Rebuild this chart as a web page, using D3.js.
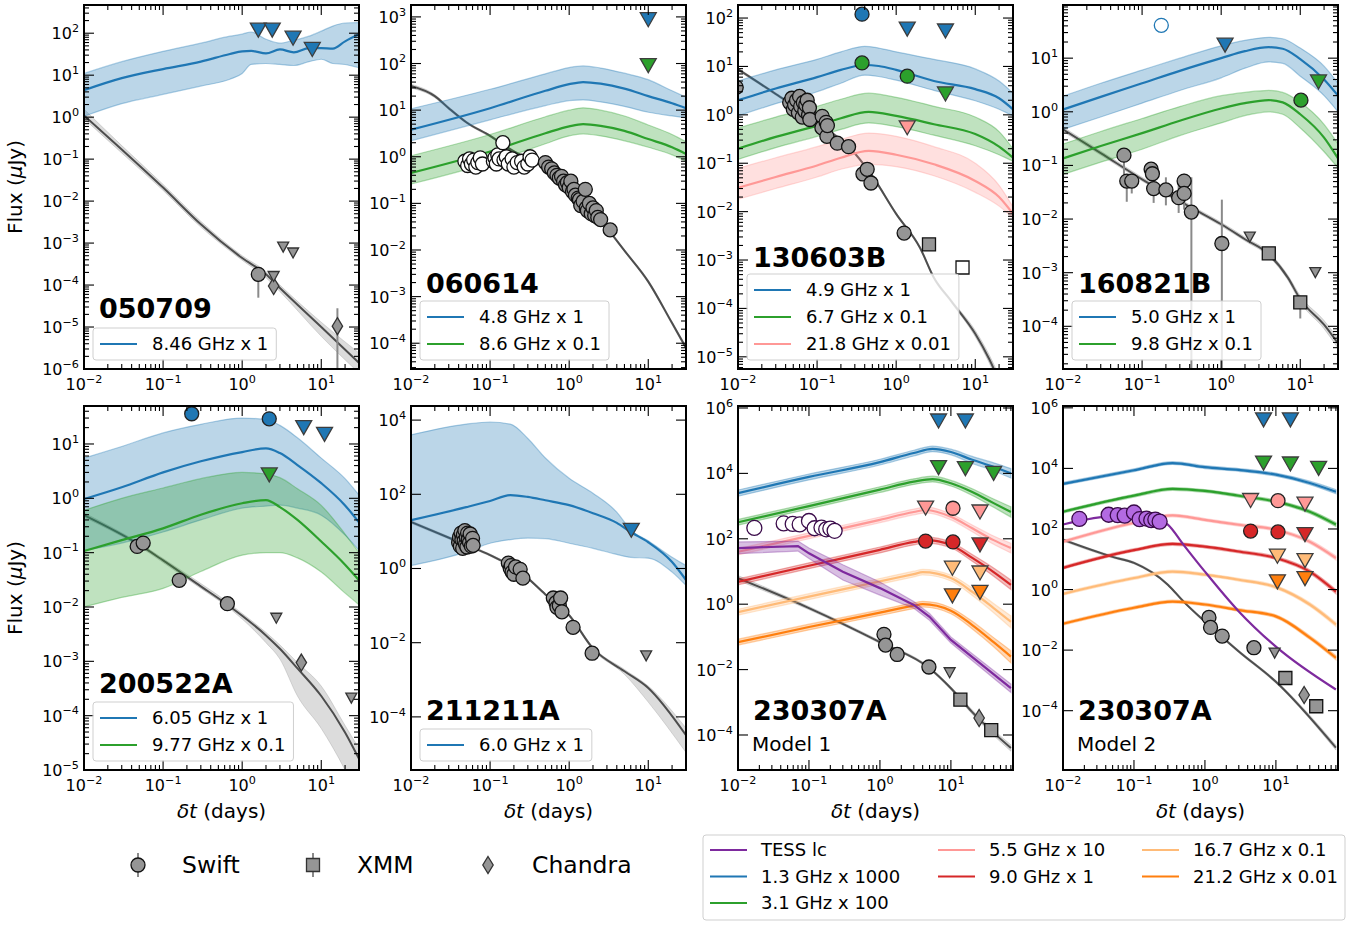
<!DOCTYPE html>
<html><head><meta charset="utf-8">
<script src="https://cdn.jsdelivr.net/npm/d3@7"></script>
<style>body{margin:0;background:#fff} text{font-family:"DejaVu Sans",sans-serif;fill:#000}</style>
</head><body><script>
// ---- 050709 ----
var m050709_846 = [[0.01,4.4,1.05,11],[0.03,8.5,2.1,21],[0.1,14,3.5,37],[0.3,21,5.5,58],[0.7,32,8,85],[1,37,11,95],[1.3,38,18,107],[2,33,19,72],[3,41,18,58],[4.5,35,17,68],[7,44,21,85],[10,44,24,112],[14,43,19,148],[20,64,18,175],[30,95,15,180]];
var x050709_model = [[0.01,1.1,0.92,1.55],[0.03,0.17,0.14,0.21],[0.1,0.021,0.018,0.025],[0.3,2.8e-3,2.4e-3,3.3e-3],[1,4.4e-4,3.9e-4,5e-4],[2,1.8e-4,1.5e-4,2.1e-4],[3,8.5e-5,7e-5,1e-4],[10,1e-5,6e-6,1.3e-5],[30,1.4e-6,8e-7,2.4e-6]];
var x050709_swift = [[1.6,1.8e-4,5e-5,2.4e-4]];
var x050709_ul = [[2.5,1.6e-4],[3.3,8e-4],[4.4,5.8e-4]];
var x050709_chandra = [[2.5,9.5e-5,7e-5,1.2e-4],[16,1.05e-5,1e-7,2.8e-5]];
var r050709_ul846 = [[1.6,118],[2.4,118],[4.4,76],[7.7,41]];

// ---- 060614 ----
var m060614_48 = [[0.01,3.8,2.2,10.7],[0.1,11,6.2,28],[0.5,26,12.5,60],[1,36,16,82],[1.5,40,16.6,89],[2.5,37,15,80],[5,29,12,62],[10,20,9,45],[20,14,7.5,26],[30,11,6.8,19]];
var m060614_86 = [[0.01,0.45,0.26,1.05],[0.1,1.3,0.75,3.0],[0.5,3.2,1.9,7.2],[1,4.5,2.8,10],[1.5,5,3.1,11.2],[2.5,4.6,2.8,10],[5,3.6,2.2,7.5],[10,2.4,1.6,4.8],[20,1.6,1.1,3.0],[30,1.15,0.8,2.1]];
var x060614_model = [[0.01,33,30,36],[0.02,20,18.5,21.5],[0.03,11,10.3,11.8],[0.05,5.5,5.2,5.8],[0.1,2.8,2.65,2.95],[0.2,1.3,1.23,1.37],[0.5,0.6,0.57,0.63],[1,0.3,0.285,0.315],[2,0.075,0.071,0.079],[3,0.03,0.028,0.032],[5,0.0097,0.0092,0.0102],[10,2.1e-3,1.95e-3,2.25e-3],[20,2.7e-4,2.5e-4,2.9e-4],[30,8e-5,7.3e-5,8.7e-5]];
var o060614_open = [[0.048,0.8],[0.052,0.65],[0.055,0.9],[0.058,0.7],[0.062,0.85],[0.066,0.6],[0.07,0.75],[0.075,0.95],[0.08,0.7],[0.11,0.8],[0.115,0.95],[0.12,0.7],[0.125,1.1],[0.13,0.9],[0.145,2.0],[0.15,0.85],[0.16,1.0],[0.17,0.7],[0.19,0.9],[0.2,0.6],[0.22,0.75],[0.25,0.8],[0.27,0.6],[0.3,0.7],[0.32,1.0],[0.34,0.85]];
var x060614_swift = [[0.5,0.75],[0.55,0.6],[0.6,0.55],[0.65,0.45],[0.7,0.4],[0.75,0.35],[0.8,0.38],[0.85,0.3],[0.9,0.25],[0.95,0.28],[1.0,0.22],[1.05,0.3],[1.1,0.18],[1.15,0.2],[1.2,0.15],[1.3,0.13],[1.35,0.12],[1.4,0.09],[1.5,0.11],[1.6,0.2],[1.65,0.08],[1.7,0.07],[1.8,0.1],[1.9,0.06],[2.0,0.08],[2.1,0.055],[2.2,0.07],[2.3,0.05],[2.5,0.045],[3.3,0.027]];
var r060614_ul48 = [[10,870]];
var r060614_ul86 = [[10,90]];

// ---- 130603B ----
var m130603_49 = [[0.01,2.0,0.95,5],[0.03,3.5,1.7,8.5],[0.1,6,3,14],[0.2,8.5,4.5,20],[0.4,10.7,6.6,26],[0.6,10.2,6.2,24],[1,8.5,5.2,20],[3,5,3.2,14],[10,3.4,1.95,8.9],[20,2.2,1.3,5],[30,1.3,0.95,2.8]];
var m130603_67 = [[0.01,0.2,0.12,0.53],[0.03,0.35,0.21,0.9],[0.1,0.6,0.36,1.5],[0.2,0.85,0.5,2.1],[0.45,1.15,0.68,2.8],[1,0.95,0.57,2.3],[3,0.64,0.38,1.5],[10,0.4,0.23,0.9],[20,0.22,0.15,0.45],[30,0.13,0.11,0.2]];
var m130603_218 = [[0.01,0.031,0.018,0.079],[0.03,0.052,0.03,0.13],[0.1,0.09,0.052,0.22],[0.2,0.13,0.075,0.31],[0.45,0.18,0.095,0.42],[1,0.15,0.085,0.36],[3,0.095,0.055,0.22],[10,0.043,0.025,0.1],[20,0.02,0.013,0.035],[30,0.009,0.0074,0.0125]];
var x130603_model = [[0.01,8.7,8.2,9.3],[0.03,2.7,2.55,2.85],[0.1,0.71,0.67,0.75],[0.3,0.16,0.15,0.17],[0.5,0.054,0.051,0.057],[1,0.009,0.0085,0.0095],[2,1.8e-3,1.7e-3,1.9e-3],[3,4.3e-4,4e-4,4.6e-4],[5,1.4e-4,1.3e-4,1.5e-4],[10,3e-5,2.6e-5,3.5e-5],[15,9e-6,7.5e-6,1.1e-5],[30,6e-7,4.5e-7,8e-7]];
var x130603_swift = [[0.0095,3.7],[0.045,1.8],[0.048,2.2],[0.05,1.3],[0.052,1.6],[0.055,2.0],[0.058,1.1],[0.06,2.4],[0.062,1.5],[0.065,0.9],[0.067,1.8],[0.07,1.2],[0.072,1.6],[0.075,2.0],[0.078,1.0],[0.08,1.4],[0.081,0.8],[0.116,0.93],[0.115,0.54],[0.13,0.7],[0.133,0.36],[0.135,0.6],[0.18,0.26],[0.25,0.22],[0.38,0.06],[0.43,0.075],[0.48,0.039],[1.26,0.0036]];
var x130603_xmm = [[2.6,0.0021]];
var x130603_xmmOpen = [[6.9,7e-4]];
var r130603_det49 = [[0.37,120]];
var r130603_det67 = [[0.37,11.8],[1.38,6.3]];
var r130603_ul49 = [[1.38,59],[4.2,54]];
var r130603_ul67 = [[4.2,2.7]];
var r130603_ul218 = [[1.38,0.54]];

// ---- 160821B ----
var m160821_50 = [[0.01,1.1,0.47,1.95],[0.03,1.9,0.8,3.4],[0.1,3.4,1.45,6],[0.3,5.8,2.5,10],[1,10,4.3,17],[2,13.5,6.5,21.5],[4,16,8.5,24.5],[6,15,8,23],[10,9.6,4.6,15.4],[20,4,2,7.1],[30,2,1,3.4]];
var m160821_98 = [[0.01,0.135,0.068,0.25],[0.03,0.23,0.115,0.43],[0.1,0.4,0.2,0.75],[0.3,0.68,0.36,1.25],[1,1.15,0.62,2.0],[2,1.45,0.85,2.3],[4,1.65,1.0,2.5],[6,1.5,0.9,2.3],[10,0.9,0.5,1.5],[20,0.33,0.18,0.58],[30,0.135,0.09,0.25]];
var x160821_model = [[0.01,0.47,0.43,0.52],[0.03,0.17,0.156,0.185],[0.1,0.055,0.051,0.06],[0.4,0.017,0.0157,0.0185],[1,0.008,0.0074,0.0087],[2,0.0042,0.0039,0.0046],[4,0.0022,0.002,0.0024],[7,8e-4,7.2e-4,8.9e-4],[10,3.2e-4,2.8e-4,3.7e-4],[20,1.07e-4,9e-5,1.28e-4],[30,4.8e-5,3.9e-5,5.9e-5]];
var x160821_swift = [[0.059,0.155,0.069,0.21],[0.064,0.051,0.021,0.069],[0.074,0.051,0.03,0.07],[0.13,0.085,0.06,0.11],[0.135,0.07,0.045,0.1],[0.14,0.037,0.02,0.06],[0.2,0.035,0.018,0.06],[0.29,0.025,0.013,0.045],[0.34,0.051,0.03,0.07],[0.34,0.03,0.015,0.06],[0.42,0.0135,1e-6,0.06],[1.02,0.0035,1e-6,0.023]];
var x160821_xmm = [[4,0.0023,0.0019,0.0028],[10,2.8e-4,1.4e-4,3.6e-4]];
var x160821_ul = [[2.3,0.0046],[15.5,1e-3]];
var r160821_open50 = [[0.175,41]];
var r160821_ul50 = [[1.12,17.5]];
var r160821_ul98 = [[17,3.6]];
var r160821_det98 = [[10.2,1.65]];

// ---- 200522A ----
var m200522_605 = [[0.01,0.97,0.11,5.5],[0.03,1.6,0.15,9],[0.1,3.0,0.24,16],[0.3,4.8,0.4,23],[1,7.1,0.66,30],[2,8.3,0.72,28],[3,6.8,0.75,22],[5,4.1,0.66,13],[10,1.9,0.49,5.5],[20,0.74,0.21,2.3],[30,0.36,0.11,1.15]];
var m200522_977 = [[0.01,0.107,0.01,0.6],[0.03,0.17,0.015,1.0],[0.1,0.28,0.022,1.55],[0.3,0.5,0.045,2.3],[1,0.81,0.09,3.0],[2,0.93,0.1,2.8],[3,0.69,0.1,2.4],[5,0.4,0.08,1.5],[10,0.16,0.044,0.74],[20,0.06,0.018,0.22],[30,0.031,0.011,0.1]];
var x200522_model = [[0.01,0.49,0.45,0.54],[0.05,0.14,0.13,0.15],[0.1,0.072,0.066,0.078],[0.3,0.024,0.022,0.027],[0.6,0.012,0.011,0.0135],[1,0.0069,0.006,0.0076],[2,0.003,0.0022,0.0034],[3,1.7e-3,1.1e-3,2e-3],[5,7.4e-4,2.3e-4,9.5e-4],[10,2.3e-4,5.8e-5,3.5e-4],[20,4.9e-5,1e-5,6.6e-5],[30,1.6e-5,3e-6,2.5e-5]];
var x200522_swift = [[0.047,0.13],[0.056,0.15],[0.16,0.031],[0.65,0.0115]];
var x200522_ul = [[2.7,0.0062],[24,2.1e-4]];
var x200522_chandra = [[5.6,9.5e-4]];
var r200522_det605 = [[0.23,36],[2.2,29]];
var r200522_ul605 = [[6,20],[11,15]];
var r200522_ul977 = [[2.2,2.7]];

// ---- 211211A ----
var m211211_60 = [[0.01,20,1.2,4000],[0.05,45,2.8,7800],[0.1,66,4.8,8900],[0.18,95,6,7800],[0.3,85,6.6,3200],[0.5,69,6.4,950],[1,51,4.8,270],[2,31,3.5,107],[4,17,2.4,33],[6,9.6,2.0,11],[10,5.1,1.9,5.6],[20,1.5,0.8,2.0],[30,0.49,0.35,1.2]];
var x211211_model = [[0.01,18,16.5,19.5],[0.05,4.3,4.0,4.6],[0.1,2.3,2.15,2.45],[0.25,0.76,0.71,0.81],[0.5,0.2,0.186,0.214],[1,0.055,0.051,0.059],[2,7e-3,6.4e-3,7.6e-3],[5,1.7e-3,1.4e-3,1.9e-3],[10,6e-4,2.5e-4,6.8e-4],[30,3.2e-5,1.1e-5,5e-5]];
var x211211_swift = [[0.040,5],[0.041,7],[0.042,4],[0.043,9],[0.044,6],[0.045,3.5],[0.046,8],[0.047,5.5],[0.048,10.5],[0.049,4.5],[0.05,7],[0.051,3.8],[0.052,9],[0.053,6],[0.055,5],[0.056,8.5],[0.058,4],[0.06,6.5],[0.061,4.2],[0.17,1.4],[0.18,1.0],[0.185,1.2],[0.19,0.8],[0.2,0.7],[0.21,1.1],[0.24,0.95],[0.26,0.55],[0.63,0.16],[0.68,0.12],[0.7,0.09],[0.75,0.1],[0.78,0.16],[0.81,0.068],[1.12,0.026],[1.95,0.0052]];
var x211211_ul = [[9.4,0.0044]];
var r211211_ul60 = [[6.1,10.7]];

// ---- 230307A shared data ----
var x230307_swift = [[1.14,0.12],[1.2,0.056],[1.75,0.029],[4.9,0.012]];
var x230307_ul = [[9.6,0.008]];
var x230307_xmm = [[13.6,1.2e-3],[37,1.4e-4]];
var x230307_chandra = [[25,3.3e-4]];
var tess230307 = [[0.017,215],[0.044,295],[0.059,285],[0.074,275],[0.1,350],[0.12,210],[0.15,220],[0.175,195],[0.2,205],[0.23,175]];
var r230307_ul13 = [[6.7,4e5],[16,4e5]];
var r230307_ul31 = [[6.7,15000],[16,14000],[40,10000]];
var r230307_ul55 = [[4.4,870],[25.7,660]];
var r230307_det55 = [[10.7,860]];
var r230307_det90 = [[4.4,85],[10.7,80]];
var r230307_ul90 = [[25.7,65]];
var r230307_ul167 = [[10.5,12.6],[25.7,9]];
var r230307_ul212 = [[10.5,1.8],[25.7,2.3]];

// ---- 230307A model 1 ----
var m1_13 = [[0.01,2500,2000,3100],[0.1,7800,6300,9600],[1,22000,18000,27000],[3,42000,34000,51000],[5.5,56000,46000,68000],[10,45000,37000,55000],[20,26000,20000,33000],[40,16000,12000,21000],[70,10000,7200,14000]];
var m1_31 = [[0.01,320,260,390],[0.1,1000,820,1220],[1,3200,2600,3900],[3,5600,4600,6800],[5.5,6700,5500,8200],[10,5000,4100,6100],[20,2700,2100,3400],[40,1230,920,1650],[70,660,460,950]];
var m1_55 = [[0.01,40,32,50],[0.1,123,100,152],[1,380,310,465],[3,660,540,810],[4.5,760,620,930],[10,470,380,580],[20,210,165,265],[40,91,68,122],[70,52,37,73]];
var m1_90 = [[0.01,4.8,3.9,5.9],[0.1,15,12.2,18.4],[1,46,37,56],[3,80,65,98],[4.5,91,74,112],[10,65,53,80],[20,26,20.5,33],[40,9.6,7.2,12.8],[70,3.9,2.8,5.5]];
var m1_167 = [[0.01,0.57,0.46,0.7],[0.1,1.7,1.38,2.1],[1,5,4.1,6.1],[3,8.3,6.8,10.2],[4,9.5,7.8,11.6],[10,6.3,5.1,7.8],[20,2.4,1.85,3.1],[40,0.76,0.55,1.05],[70,0.29,0.19,0.44]];
var m1_212 = [[0.01,0.069,0.056,0.085],[0.1,0.2,0.163,0.245],[1,0.55,0.45,0.67],[3,0.9,0.73,1.1],[4,1.0,0.82,1.22],[10,0.63,0.51,0.78],[20,0.23,0.175,0.3],[40,0.069,0.05,0.095],[70,0.025,0.016,0.038]];
var m1_tess = [[0.01,52,35,80],[0.07,60,42,85],[0.1,36,25,52],[0.3,9.8,5.5,16],[1,3.1,1.9,4.8],[3,0.95,0.75,1.2],[5,0.41,0.32,0.52],[10,0.081,0.065,0.1],[70,0.0027,0.002,0.0036]];
var m1_x = [[0.01,6.3,5.3,7.5],[0.1,0.76,0.68,0.85],[1,0.069,0.063,0.076],[5,0.011,0.01,0.012],[10,2.7e-3,2.4e-3,3e-3],[20,5e-4,4.3e-4,5.8e-4],[70,4e-5,3.2e-5,5e-5]];

// ---- 230307A model 2 ----
var m2_13 = [[0.01,3100,2800,3450],[0.1,8700,7800,9700],[0.35,15000,13500,16700],[1,11000,9900,12300],[3,8900,8000,9900],[10,6200,5500,7000],[30,3300,2900,3800],[70,1700,1450,2000]];
var m2_31 = [[0.01,370,335,410],[0.1,1260,1130,1400],[0.35,2100,1890,2340],[1,1800,1620,2000],[3,1250,1120,1390],[10,800,710,900],[30,370,325,425],[70,140,120,164]];
var m2_55 = [[0.01,38,34,42],[0.1,160,144,178],[0.35,280,252,312],[1,200,180,222],[3,138,124,154],[10,94,84,106],[30,38,33,44],[70,11,9.4,13]];
var m2_90 = [[0.01,5.2,4.7,5.8],[0.1,20,18,22.3],[0.35,32,28.8,35.6],[1,26,23.4,29],[3,18,16.2,20],[10,11,9.8,12.4],[30,3.9,3.4,4.5],[70,0.85,0.72,1.0]];
var m2_167 = [[0.01,0.72,0.65,0.8],[0.1,2.4,2.16,2.67],[0.35,3.9,3.5,4.35],[1,3.1,2.8,3.45],[3,2.1,1.89,2.34],[10,1.2,1.07,1.35],[30,0.32,0.28,0.37],[70,0.07,0.06,0.082]];
var m2_212 = [[0.01,0.074,0.067,0.082],[0.1,0.25,0.225,0.278],[0.35,0.4,0.36,0.445],[1,0.32,0.29,0.355],[3,0.21,0.19,0.234],[10,0.13,0.116,0.146],[30,0.026,0.0228,0.03],[70,0.0056,0.0048,0.0066]];
var m2_tess = [[0.01,140],[0.02,200],[0.05,270],[0.1,280],[0.2,220],[0.3,140],[0.5,30],[1,3.9],[3,0.19],[10,0.013],[70,5e-4]];
var m2_x = [[0.01,44,40,48],[0.05,12,11,13],[0.1,7.6,7,8.2],[0.3,1.45,1.33,1.58],[0.5,0.4,0.37,0.44],[1,0.087,0.08,0.095],[3,0.009,0.0082,0.0099],[10,9e-4,8.1e-4,1e-3],[70,6e-6,5e-6,7.3e-6]];

var legendLabels = ["TESS lc","1.3 GHz x 1000","3.1 GHz x 100","5.5 GHz x 10","9.0 GHz x 1","16.7 GHz x 0.1","21.2 GHz x 0.01"];
var xrayLabels = ["Swift","XMM","Chandra"];

var width = 1364, height = 925;
var panelW = 275, panelH = 364;
var colX = [84,411,738,1063], rowY = [5,406];

var col = {blue:"#1f77b4", green:"#2ca02c", pink:"#ff9896", red:"#d62728", lorange:"#ffbb78", orange:"#ff7f0e", purple:"#7e2a9e", tessPt:"#b36ae2", xline:"#4d4d4d", xband:"#8c8c8c", xpt:"#959595"};

var panels = [
	{name:"050709", c:0, r:0, xd:[0.01,30], yd:[1e-6,470], stride:1, nameY:313,
		models:[[m050709_846,col.blue]], xmodel:x050709_model,
		swift:x050709_swift, ul:x050709_ul, chandra:x050709_chandra,
		radio:[[r050709_ul846,"tri",col.blue]], legend:[["8.46 GHz x 1",col.blue]]},
	{name:"060614", c:1, r:0, xd:[0.01,30], yd:[2.8e-5,1800], stride:1, nameY:288,
		models:[[m060614_48,col.blue],[m060614_86,col.green]], xmodel:x060614_model,
		open:o060614_open, swift:x060614_swift,
		radio:[[r060614_ul48,"tri",col.blue],[r060614_ul86,"tri",col.green]], legend:[["4.8 GHz x 1",col.blue],["8.6 GHz x 0.1",col.green]]},
	{name:"130603B", c:2, r:0, xd:[0.01,30], yd:[5.6e-6,186], stride:1, nameY:262,
		models:[[m130603_49,col.blue],[m130603_67,col.green],[m130603_218,col.pink]], xmodel:x130603_model,
		swift:x130603_swift, xmm:x130603_xmm, xmmOpen:x130603_xmmOpen,
		radio:[[r130603_det49,"circ",col.blue],[r130603_det67,"circ",col.green],[r130603_ul49,"tri",col.blue],[r130603_ul67,"tri",col.green],[r130603_ul218,"tri",col.pink]],
		legend:[["4.9 GHz x 1",col.blue],["6.7 GHz x 0.1",col.green],["21.8 GHz x 0.01",col.pink]]},
	{name:"160821B", c:3, r:0, xd:[0.01,30], yd:[1.6e-5,98], stride:1, nameY:288,
		models:[[m160821_50,col.blue],[m160821_98,col.green]], xmodel:x160821_model,
		swift:x160821_swift, xmm:x160821_xmm, ul:x160821_ul,
		radio:[[r160821_open50,"open",col.blue],[r160821_ul50,"tri",col.blue],[r160821_ul98,"tri",col.green],[r160821_det98,"circ",col.green]],
		legend:[["5.0 GHz x 1",col.blue],["9.8 GHz x 0.1",col.green]]},
	{name:"200522A", c:0, r:1, xd:[0.01,30], yd:[1e-5,50], stride:1, nameY:287,
		models:[[m200522_605,col.blue],[m200522_977,col.green]], xmodel:x200522_model,
		swift:x200522_swift, ul:x200522_ul, chandra:x200522_chandra,
		radio:[[r200522_det605,"circ",col.blue],[r200522_ul605,"tri",col.blue],[r200522_ul977,"tri",col.green]],
		legend:[["6.05 GHz x 1",col.blue],["9.77 GHz x 0.1",col.green]]},
	{name:"211211A", c:1, r:1, xd:[0.01,30], yd:[3.7e-6,2.4e4], stride:2, nameY:314,
		models:[[m211211_60,col.blue]], xmodel:x211211_model,
		swift:x211211_swift, ul:x211211_ul,
		radio:[[r211211_ul60,"tri",col.blue]], legend:[["6.0 GHz x 1",col.blue]]},
	{name:"230307A", sub:"Model 1", c:2, r:1, xd:[0.01,75], yd:[8.5e-6,1.15e6], stride:2, nameY:314,
		models:[[m1_13,col.blue],[m1_31,col.green],[m1_55,col.pink],[m1_90,col.red],[m1_167,col.lorange],[m1_212,col.orange],[m1_tess,col.purple,"linear"]], xmodel:m1_x,
		tessOpen:tess230307, swift:x230307_swift, ul:x230307_ul, xmm:x230307_xmm, chandra:x230307_chandra},
	{name:"230307A", sub:"Model 2", c:3, r:1, xd:[0.01,75], yd:[1.1e-6,1.15e6], stride:2, nameY:314,
		models:[[m2_13,col.blue],[m2_31,col.green],[m2_55,col.pink],[m2_90,col.red],[m2_167,col.lorange],[m2_212,col.orange],[m2_tess,col.purple]], xmodel:m2_x,
		tessFill:tess230307, swift:x230307_swift, ul:x230307_ul, xmm:x230307_xmm, chandra:x230307_chandra}
];
var radio230307 = [[r230307_ul13,"tri",col.blue],[r230307_ul31,"tri",col.green],[r230307_ul55,"tri",col.pink],[r230307_det55,"circ",col.pink],[r230307_det90,"circ",col.red],[r230307_ul90,"tri",col.red],[r230307_ul167,"tri",col.lorange],[r230307_ul212,"tri",col.orange]];
panels[6].radio = radio230307;
panels[7].radio = radio230307;

function createSVG(){
	return d3.select("body").append("svg")
	.attr("width", width)
	.attr("height", height);
}
var svg = createSVG();
var defs = svg.append("defs");

// marker shapes centred on the data point
function shapePath(kind){
	if (kind == "tri") return "M-8,-7L8,-7L0,7Z";
	if (kind == "triS") return "M-5.5,-5L5.5,-5L0,5Z";
	if (kind == "square") return "M-6.5,-6.5L6.5,-6.5L6.5,6.5L-6.5,6.5Z";
	if (kind == "diamond") return "M0,-8.5L5.2,0L0,8.5L-5.2,0Z";
	return null;
}

function addMarkers(g, data, kind, fill, stroke, x, y, r){
	var sel = g.append("g");
	data.forEach(function(d){
		if (d.length > 2){
			sel.append("line")
			.attr("x1", x(d[0])).attr("x2", x(d[0]))
			.attr("y1", y(d[2])).attr("y2", y(d[3]))
			.attr("stroke", "#8a8a8a").attr("stroke-width", 2);
		}
	});
	data.forEach(function(d){
		var m;
		if (kind == "circ"){
			m = sel.append("circle").attr("cx", x(d[0])).attr("cy", y(d[1])).attr("r", r || 7);
		} else {
			m = sel.append("path").attr("d", shapePath(kind))
			.attr("transform", "translate(" + x(d[0]) + "," + y(d[1]) + ")");
		}
		m.attr("fill", fill).attr("stroke", stroke).attr("stroke-width", 1.3);
	});
}

function powText(sel, e, size){
	sel.append("tspan").text("10");
	sel.append("tspan").attr("dy", -0.45*size).attr("font-size", size*0.7)
	.text(e < 0 ? "\u2212" + (-e) : String(e));
}

function drawAxes(g, x, y, p){
	var ax = g.append("g").attr("stroke", "#000");
	var lx0 = Math.log10(p.xd[0]), lx1 = Math.log10(p.xd[1]);
	for (var e = Math.floor(lx0); e <= Math.ceil(lx1); e++){
		for (var k = 1; k < 10; k++){
			var v = k*Math.pow(10, e);
			if (v < p.xd[0]*0.999 || v > p.xd[1]*1.001) continue;
			var len = k == 1 ? 10 : 5;
			var xx = x(v);
			ax.append("line").attr("x1", xx).attr("x2", xx).attr("y1", panelH).attr("y2", panelH-len).attr("stroke-width", 1.1);
			ax.append("line").attr("x1", xx).attr("x2", xx).attr("y1", 0).attr("y2", len).attr("stroke-width", 1.1);
			if (k == 1){
				var t = g.append("text").attr("x", xx).attr("y", panelH+21)
				.attr("text-anchor", "middle").attr("font-size", 16);
				powText(t, e, 16);
			}
		}
	}
	var ly0 = Math.log10(p.yd[0]), ly1 = Math.log10(p.yd[1]);
	for (var e2 = Math.floor(ly0); e2 <= Math.ceil(ly1); e2++){
		for (var k2 = 1; k2 < 10; k2++){
			var v2 = k2*Math.pow(10, e2);
			if (v2 < p.yd[0] || v2 > p.yd[1]) continue;
			var major = (k2 == 1) && (e2 % p.stride == 0);
			if (!major && (p.stride > 1)) continue;
			var len2 = major ? 10 : 5;
			var yy = y(v2);
			ax.append("line").attr("x1", 0).attr("x2", len2).attr("y1", yy).attr("y2", yy).attr("stroke-width", 1.1);
			ax.append("line").attr("x1", panelW).attr("x2", panelW-len2).attr("y1", yy).attr("y2", yy).attr("stroke-width", 1.1);
			if (major){
				var t2 = g.append("text").attr("x", -5).attr("y", yy+6)
				.attr("text-anchor", "end").attr("font-size", 16);
				powText(t2, e2, 16);
			}
		}
	}
	g.append("rect").attr("width", panelW).attr("height", panelH)
	.attr("fill", "none").attr("stroke", "#000").attr("stroke-width", 2);
}

function drawLegend(g, items){
	var lg = g.append("g");
	var n = items.length;
	var top = 355 - 27*n - 5;
	var box = lg.append("rect").attr("x", 9).attr("y", top).attr("height", 27*n + 5)
	.attr("rx", 3).attr("fill", "#fff").attr("fill-opacity", 0.8)
	.attr("stroke", "#cfcfcf").attr("stroke-width", 1);
	var maxW = 0;
	items.forEach(function(it, i){
		var yy = top + 16 + 27*i;
		lg.append("line").attr("x1", 16).attr("x2", 53).attr("y1", yy).attr("y2", yy)
		.attr("stroke", it[1]).attr("stroke-width", 2.2);
		var t = lg.append("text").attr("x", 68).attr("y", yy+6).attr("font-size", 18).text(it[0]);
		maxW = Math.max(maxW, t.node().getComputedTextLength());
	});
	box.attr("width", 68 + maxW + 8 - 9);
}

panels.forEach(function(p, i){
	var g = svg.append("g").attr("transform", "translate(" + colX[p.c] + "," + rowY[p.r] + ")");
	var x = d3.scaleLog().domain(p.xd).range([0, panelW]);
	var y = d3.scaleLog().domain(p.yd).range([panelH, 0]);
	defs.append("clipPath").attr("id", "clip" + i)
	.append("rect").attr("width", panelW).attr("height", panelH);
	var plot = g.append("g").attr("clip-path", "url(#clip" + i + ")");

	function area(curve){
		return d3.area().curve(curve).x(function(d){ return x(d[0]); })
		.y0(function(d){ return y(d[2]); }).y1(function(d){ return y(d[3]); });
	}
	function line(curve){
		return d3.line().curve(curve).x(function(d){ return x(d[0]); }).y(function(d){ return y(d[1]); });
	}
	var smooth = d3.curveMonotoneX;

	// x-ray model
	plot.append("path").datum(p.xmodel).attr("d", area(smooth))
	.attr("fill", col.xband).attr("fill-opacity", 0.3)
	.attr("stroke", col.xband).attr("stroke-opacity", 0.3).attr("stroke-width", 1);
	plot.append("path").datum(p.xmodel).attr("d", line(smooth))
	.attr("fill", "none").attr("stroke", col.xline).attr("stroke-width", 2);

	// radio / optical models
	p.models.forEach(function(m){
		var cv = m[2] == "linear" ? d3.curveLinear : smooth;
		if (m[0][0].length > 2){
			plot.append("path").datum(m[0]).attr("d", area(cv))
			.attr("fill", m[1]).attr("fill-opacity", 0.3)
			.attr("stroke", m[1]).attr("stroke-opacity", 0.35).attr("stroke-width", 1.2);
		}
		plot.append("path").datum(m[0]).attr("d", line(cv))
		.attr("fill", "none").attr("stroke", m[1]).attr("stroke-width", 2.2);
	});

	// data
	if (p.open) addMarkers(plot, p.open, "circ", "#fff", "#111", x, y, 7);
	if (p.tessOpen) addMarkers(plot, p.tessOpen, "circ", "#fff", "#3a0b4a", x, y, 7.5);
	if (p.tessFill) addMarkers(plot, p.tessFill, "circ", col.tessPt, "#3a0b4a", x, y, 7.5);
	if (p.swift) addMarkers(plot, p.swift, "circ", col.xpt, "#111", x, y, 7);
	if (p.xmm) addMarkers(plot, p.xmm, "square", col.xpt, "#111", x, y);
	if (p.xmmOpen) addMarkers(plot, p.xmmOpen, "square", "#fff", "#111", x, y);
	if (p.chandra) addMarkers(plot, p.chandra, "diamond", col.xpt, "#333", x, y);
	if (p.ul) addMarkers(plot, p.ul, "triS", col.xpt, "#333", x, y);
	if (p.radio) p.radio.forEach(function(rd){
		if (rd[1] == "open") addMarkers(plot, rd[0], "circ", "#fff", rd[2], x, y, 7);
		else if (rd[1] == "circ") addMarkers(plot, rd[0], "circ", rd[2], "#222", x, y, 7);
		else addMarkers(plot, rd[0], "tri", rd[2], "#3d3d3d", x, y);
	});

	drawAxes(g, x, y, p);

	g.append("text").attr("x", 15).attr("y", p.nameY)
	.attr("font-size", 27).attr("font-weight", "bold").text(p.name);
	if (p.sub) g.append("text").attr("x", 14).attr("y", 345).attr("font-size", 20).text(p.sub);
	if (p.legend) drawLegend(g, p.legend);

	if (p.r == 1){
		var xl = svg.append("text").attr("x", colX[p.c] + panelW/2).attr("y", 818)
		.attr("text-anchor", "middle").attr("font-size", 20);
		xl.append("tspan").attr("font-style", "italic").text("\u03b4t");
		xl.append("tspan").text(" (days)");
	}
	if (p.c == 0){
		var yc = rowY[p.r] + panelH/2;
		var yl = svg.append("text").attr("transform", "translate(22," + yc + ") rotate(-90)")
		.attr("text-anchor", "middle").attr("font-size", 20);
		yl.append("tspan").text("Flux (");
		yl.append("tspan").attr("font-style", "italic").text("\u03bc");
		yl.append("tspan").text("Jy)");
	}
});

// x-ray instrument legend
var xl = svg.append("g");
var legX = [138, 313, 488];
var legKinds = ["circ", "square", "diamond"];
legX.forEach(function(lx, i){
	if (i < 2){
		xl.append("line").attr("x1", lx).attr("x2", lx).attr("y1", 853).attr("y2", 877)
		.attr("stroke", "#8a8a8a").attr("stroke-width", 2);
	}
	if (legKinds[i] == "circ"){
		xl.append("circle").attr("cx", lx).attr("cy", 865).attr("r", 7)
		.attr("fill", col.xpt).attr("stroke", "#111").attr("stroke-width", 1.3);
	} else {
		xl.append("path").attr("d", shapePath(legKinds[i]))
		.attr("transform", "translate(" + lx + ",865)")
		.attr("fill", col.xpt).attr("stroke", "#333").attr("stroke-width", 1.3);
	}
	xl.append("text").attr("x", lx + 44).attr("y", 873).attr("font-size", 23.5).text(xrayLabels[i]);
});

// frequency legend for 230307A
var fl = svg.append("g");
fl.append("rect").attr("x", 703).attr("y", 835).attr("width", 642).attr("height", 85)
.attr("rx", 3).attr("fill", "#fff").attr("stroke", "#cfcfcf").attr("stroke-width", 1);
var legColors = [col.purple, col.blue, col.green, col.pink, col.red, col.lorange, col.orange];
var legPos = [[0,0],[0,1],[0,2],[1,0],[1,1],[2,0],[2,1]];
var colStart = [710, 938, 1142];
legendLabels.forEach(function(lab, i){
	var cx = colStart[legPos[i][0]], cy = 850 + 26.5*legPos[i][1];
	fl.append("line").attr("x1", cx).attr("x2", cx+37).attr("y1", cy).attr("y2", cy)
	.attr("stroke", legColors[i]).attr("stroke-width", 2.2);
	fl.append("text").attr("x", cx + 51).attr("y", cy + 6).attr("font-size", 18).text(lab);
});
</script></body></html>
